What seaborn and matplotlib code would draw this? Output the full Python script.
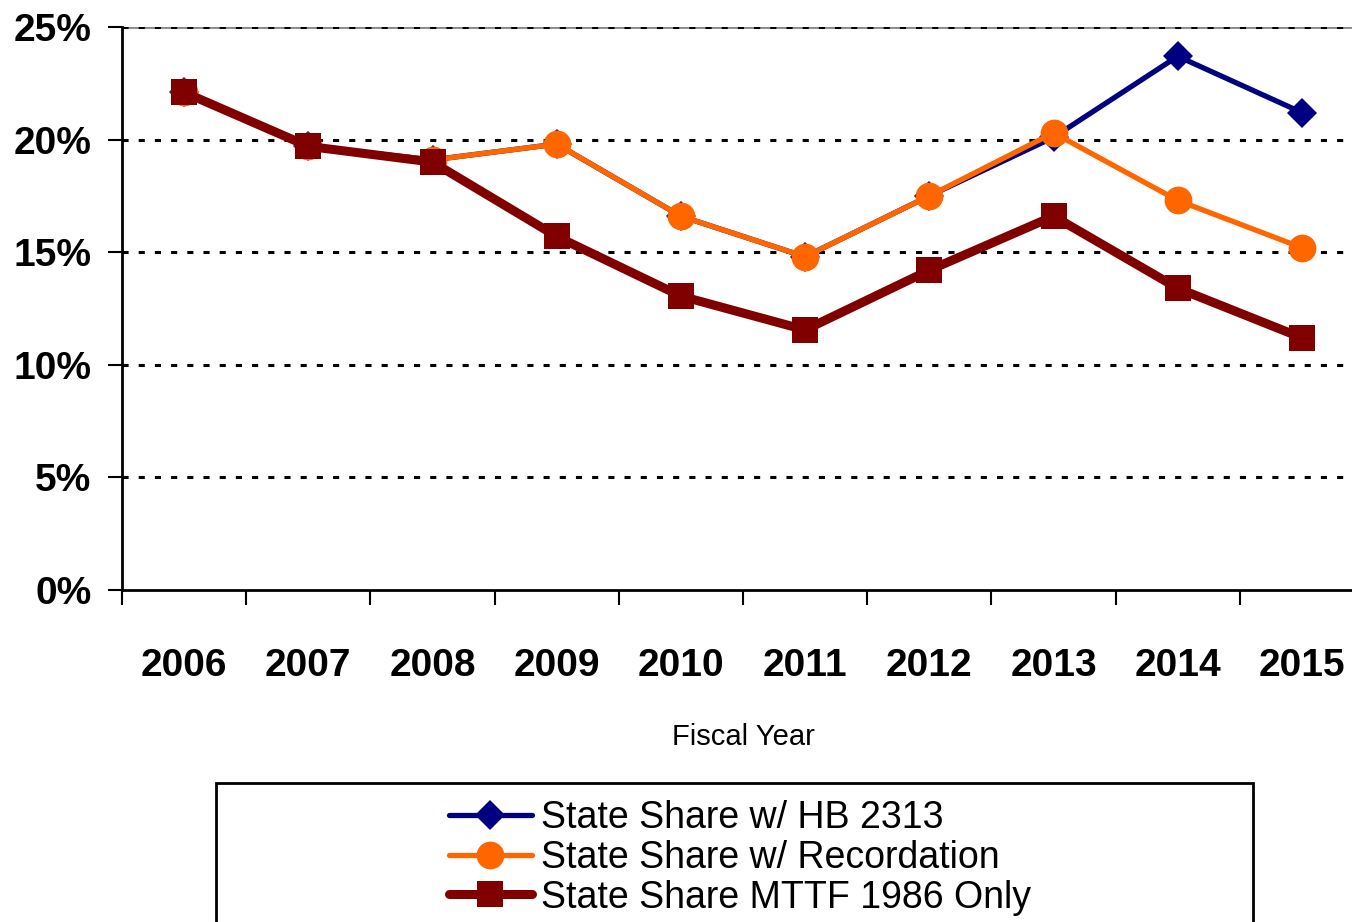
import numpy as np
import pandas as pd
import matplotlib
matplotlib.use("Agg")
import matplotlib.pyplot as plt
from matplotlib.patches import Rectangle
import seaborn as sns

# Data (percent)
years = ['2006', '2007', '2008', '2009', '2010', '2011', '2012', '2013', '2014', '2015']
hb2313 = [22.1, 19.7, 19.1, 19.8, 16.6, 14.8, 17.5, 20.1, 23.7, 21.2]
recordation = [22.1, 19.7, 19.1, 19.8, 16.6, 14.8, 17.5, 20.3, 17.3, 15.2]
mttf_1986 = [22.1, 19.7, 19.0, 15.7, 13.05, 11.55, 14.2, 16.6, 13.4, 11.2]
yticks = [0, 5, 10, 15, 20, 25]

series_names = ['State Share w/ HB 2313', 'State Share w/ Recordation', 'State Share MTTF 1986 Only']

sns.set_style('white')
plt.rcParams['font.family'] = ['Liberation Sans', 'DejaVu Sans']
for k in ['text.color', 'axes.labelcolor', 'xtick.color', 'ytick.color']:
    plt.rcParams[k] = 'black'

W, H = 1352, 922
fig = plt.figure(figsize=(W / 100, H / 100), dpi=100)
ax = fig.add_axes([122 / W, 1 - 590 / H, 1242 / W, 563 / H])

pos = np.arange(len(years))
df = pd.DataFrame({'pos': pos, 'hb': hb2313, 'rec': recordation, 'mttf': mttf_1986})

# grid lines first
for v in yticks[1:]:
    ax.axhline(v, color='black', lw=2.2, linestyle=(0, (2, 3.3)), zorder=1)
ax.axhline(25, color='#888888', lw=2, zorder=0.9)

sns.lineplot(data=df, x='pos', y='hb', ax=ax, color='#000080', lw=3.8, marker='D',
             markersize=15, markeredgewidth=0, label=series_names[0], zorder=3)
sns.lineplot(data=df, x='pos', y='rec', ax=ax, color='#FF6600', lw=3.8, marker='o',
             markersize=20, markeredgewidth=0, label=series_names[1], zorder=4)
sns.lineplot(data=df, x='pos', y='mttf', ax=ax, color='#800000', lw=6.5, marker='s',
             markersize=19, markeredgewidth=0, label=series_names[2], zorder=5)

ax.set_xlim(-0.5, len(years) - 0.5)
ax.set_ylim(0, 25)

ax.set_yticks(yticks)
ax.set_yticklabels([f'{v}%' for v in yticks], fontsize=28, fontweight='bold')
ax.tick_params(axis='y', direction='out', length=10, width=1.5, color='black', pad=12, left=True)

ax.set_xticks(pos - 0.5)
ax.set_xticklabels([])
ax.set_xticks(pos, minor=True)
ax.set_xticklabels(years, minor=True, fontsize=28, fontweight='bold')
ax.tick_params(axis='x', which='major', direction='out', length=11, width=1.5, color='black', bottom=True)
ax.tick_params(axis='x', which='minor', length=0, pad=42)

ax.set_xlabel('Fiscal Year', fontsize=21, labelpad=28)
ax.set_ylabel('')

for side in ['top', 'right']:
    ax.spines[side].set_visible(False)
for side in ['left', 'bottom']:
    ax.spines[side].set_color('black')
    ax.spines[side].set_linewidth(2)

ax.get_legend().remove()

# legend box (cut off at the bottom like the original)
fig.patches.append(Rectangle((216 / W, -0.05), (1253 - 216) / W, 0.05 + 1 - 783 / H,
                             transform=fig.transFigure, fill=False, edgecolor='black', lw=2))
handles, labels = ax.get_legend_handles_labels()
fig.legend(handles, labels, loc='upper center', bbox_to_anchor=(740 / W, 1 - 800 / H),
           frameon=False, fontsize=27, handlelength=2.2, handletextpad=0.25,
           labelspacing=0.1, borderpad=0, borderaxespad=0)

fig.savefig('out.png', dpi=100)
